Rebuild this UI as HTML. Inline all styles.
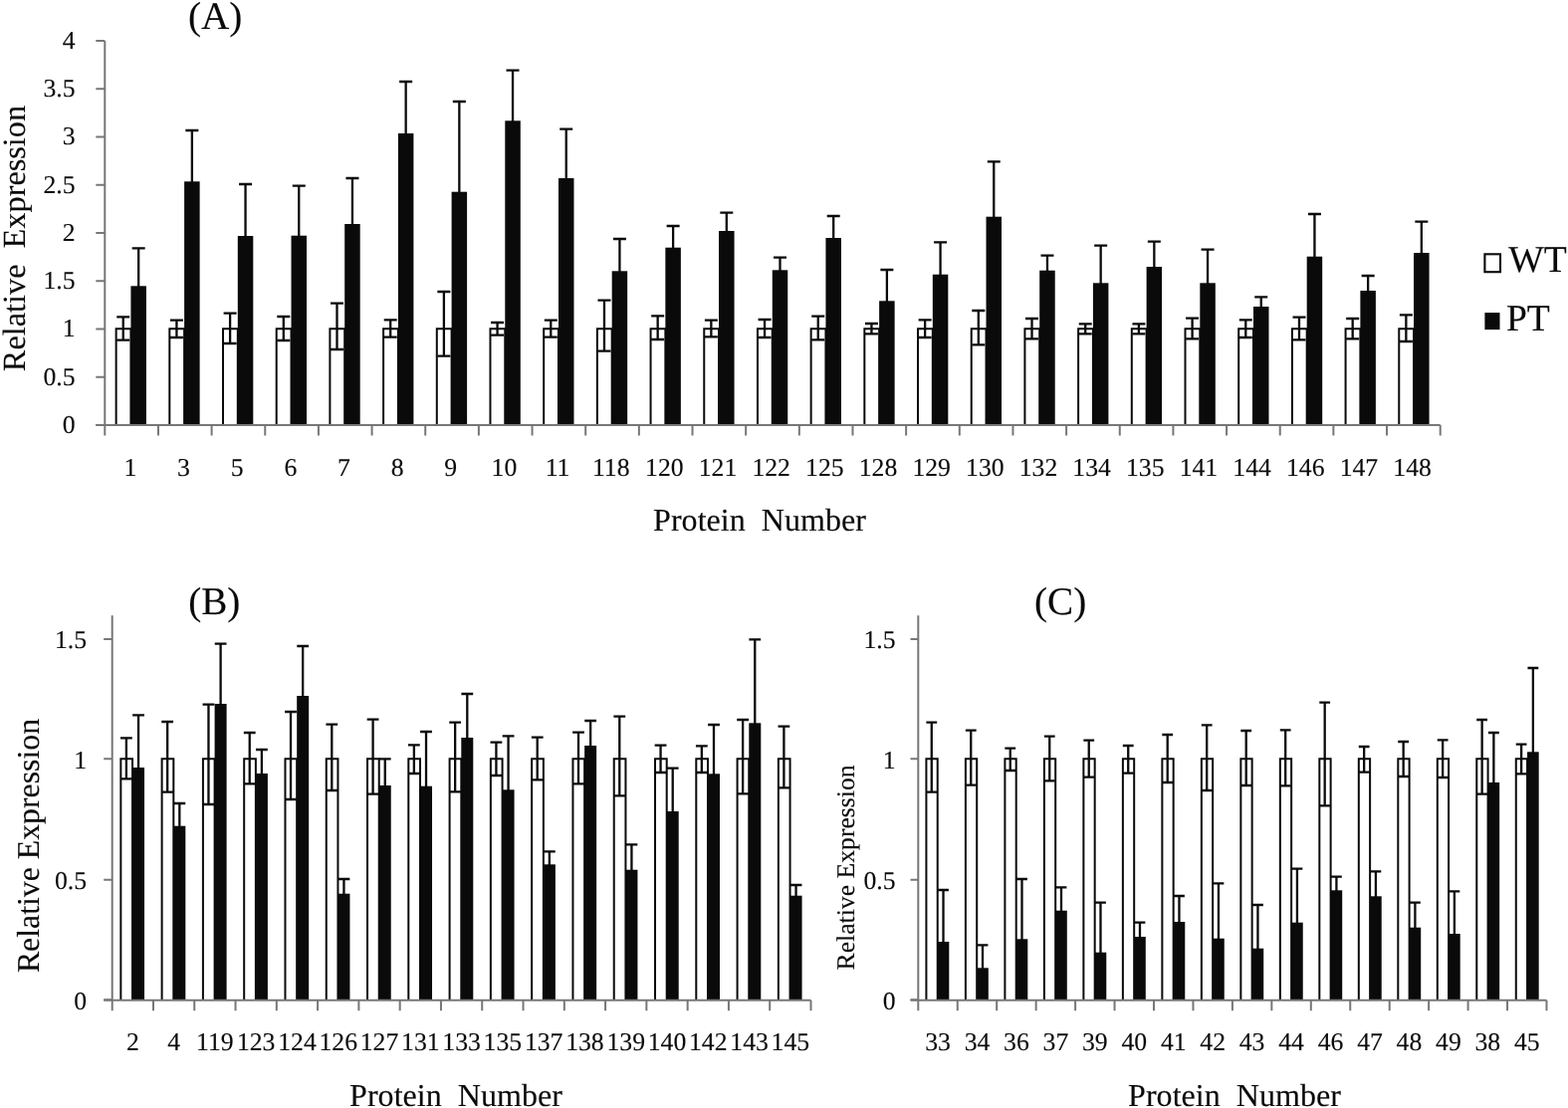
<!DOCTYPE html>
<html lang="en">
<head>
<meta charset="utf-8">
<title>Relative Expression by Protein Number</title>
<style>
html,body{margin:0;padding:0;background:#fff;}
body{width:1575px;height:1113px;overflow:hidden;}
svg{display:block;}
.t{font-family:'Liberation Serif', 'DejaVu Serif', serif;fill:#0a0a0a;stroke:#0a0a0a;stroke-width:0.12;text-rendering:geometricPrecision;white-space:pre;}
.wt{fill:#fff;stroke:#0a0a0a;stroke-width:2;}
.pt{fill:#0a0a0a;}
.e{fill:none;stroke:#0a0a0a;stroke-width:2.3;}
.ax{fill:none;stroke:#777777;stroke-width:2;}
</style>
</head>
<body>
<svg role="img" aria-label="Relative expression of proteins in WT and PT, panels A, B and C" width="1575" height="1113" viewBox="0 0 1575 1113">
<rect x="0" y="0" width="1575" height="1113" fill="#fff"/>
<path class="wt" d="M116.63 427V330.3H131.43V427"/>
<rect class="pt" x="131.43" y="287.3" width="15.5" height="139.7"/>
<path class="e" d="M123.73 318.3V341.7M117.23 318.3H130.23M117.23 341.7H130.23"/>
<path class="e" d="M139.18 249.3V289.3M132.68 249.3H145.68"/>
<path class="wt" d="M170.32 427V330.3H185.12V427"/>
<rect class="pt" x="185.12" y="182.3" width="15.5" height="244.7"/>
<path class="e" d="M177.42 321.7V339M170.92 321.7H183.92M170.92 339H183.92"/>
<path class="e" d="M192.87 131V184.3M186.37 131H199.37"/>
<path class="wt" d="M224.01 427V330.3H238.81V427"/>
<rect class="pt" x="238.81" y="237" width="15.5" height="190"/>
<path class="e" d="M231.11 314.7V345M224.61 314.7H237.61M224.61 345H237.61"/>
<path class="e" d="M246.56 185V239M240.06 185H253.06"/>
<path class="wt" d="M277.71 427V330.3H292.51V427"/>
<rect class="pt" x="292.51" y="236.7" width="15.5" height="190.3"/>
<path class="e" d="M284.81 318V342M278.31 318H291.31M278.31 342H291.31"/>
<path class="e" d="M300.26 186.7V238.7M293.76 186.7H306.76"/>
<path class="wt" d="M331.4 427V330.3H346.2V427"/>
<rect class="pt" x="346.2" y="225" width="15.5" height="202"/>
<path class="e" d="M338.5 304.7V351M332 304.7H345M332 351H345"/>
<path class="e" d="M353.95 179V227M347.45 179H360.45"/>
<path class="wt" d="M385.1 427V330.3H399.9V427"/>
<rect class="pt" x="399.9" y="134" width="15.5" height="293"/>
<path class="e" d="M392.2 321.3V338.7M385.7 321.3H398.7M385.7 338.7H398.7"/>
<path class="e" d="M407.65 82V136M401.15 82H414.15"/>
<path class="wt" d="M438.79 427V330.3H453.59V427"/>
<rect class="pt" x="453.59" y="192.7" width="15.5" height="234.3"/>
<path class="e" d="M445.89 293V357.7M439.39 293H452.39M439.39 357.7H452.39"/>
<path class="e" d="M461.34 102V194.7M454.84 102H467.84"/>
<path class="wt" d="M492.48 427V330.3H507.28V427"/>
<rect class="pt" x="507.28" y="121.3" width="15.5" height="305.7"/>
<path class="e" d="M499.58 324V336.7M493.08 324H506.08M493.08 336.7H506.08"/>
<path class="e" d="M515.03 70.7V123.3M508.53 70.7H521.53"/>
<path class="wt" d="M546.18 427V330.3H560.98V427"/>
<rect class="pt" x="560.98" y="179" width="15.5" height="248"/>
<path class="e" d="M553.28 321.7V338.7M546.78 321.7H559.78M546.78 338.7H559.78"/>
<path class="e" d="M568.73 129.7V181M562.23 129.7H575.23"/>
<path class="wt" d="M599.87 427V330.3H614.67V427"/>
<rect class="pt" x="614.67" y="272.3" width="15.5" height="154.7"/>
<path class="e" d="M606.97 301.7V352.7M600.47 301.7H613.47M600.47 352.7H613.47"/>
<path class="e" d="M622.42 240V274.3M615.92 240H628.92"/>
<path class="wt" d="M653.56 427V330.3H668.36V427"/>
<rect class="pt" x="668.36" y="248.7" width="15.5" height="178.3"/>
<path class="e" d="M660.66 317.3V341M654.16 317.3H667.16M654.16 341H667.16"/>
<path class="e" d="M676.11 227V250.7M669.61 227H682.61"/>
<path class="wt" d="M707.26 427V330.3H722.06V427"/>
<rect class="pt" x="722.06" y="232" width="15.5" height="195"/>
<path class="e" d="M714.36 321.7V338.3M707.86 321.7H720.86M707.86 338.3H720.86"/>
<path class="e" d="M729.81 213.7V234M723.31 213.7H736.31"/>
<path class="wt" d="M760.95 427V330.3H775.75V427"/>
<rect class="pt" x="775.75" y="271.3" width="15.5" height="155.7"/>
<path class="e" d="M768.05 321V339M761.55 321H774.55M761.55 339H774.55"/>
<path class="e" d="M783.5 258.7V273.3M777 258.7H790"/>
<path class="wt" d="M814.64 427V330.3H829.44V427"/>
<rect class="pt" x="829.44" y="239" width="15.5" height="188"/>
<path class="e" d="M821.74 317.7V341.3M815.24 317.7H828.24M815.24 341.3H828.24"/>
<path class="e" d="M837.19 217V241M830.69 217H843.69"/>
<path class="wt" d="M868.34 427V330.3H883.14V427"/>
<rect class="pt" x="883.14" y="302.3" width="15.5" height="124.7"/>
<path class="e" d="M875.44 325V335.3M868.94 325H881.94M868.94 335.3H881.94"/>
<path class="e" d="M890.89 271V304.3M884.39 271H897.39"/>
<path class="wt" d="M922.03 427V330.3H936.83V427"/>
<rect class="pt" x="936.83" y="275.7" width="15.5" height="151.3"/>
<path class="e" d="M929.13 321.3V339M922.63 321.3H935.63M922.63 339H935.63"/>
<path class="e" d="M944.58 243.3V277.7M938.08 243.3H951.08"/>
<path class="wt" d="M975.72 427V330.3H990.52V427"/>
<rect class="pt" x="990.52" y="217.7" width="15.5" height="209.3"/>
<path class="e" d="M982.82 312V346.3M976.32 312H989.32M976.32 346.3H989.32"/>
<path class="e" d="M998.27 162.3V219.7M991.77 162.3H1004.77"/>
<path class="wt" d="M1029.42 427V330.3H1044.22V427"/>
<rect class="pt" x="1044.22" y="271.7" width="15.5" height="155.3"/>
<path class="e" d="M1036.52 320V340.3M1030.02 320H1043.02M1030.02 340.3H1043.02"/>
<path class="e" d="M1051.97 256.7V273.7M1045.47 256.7H1058.47"/>
<path class="wt" d="M1083.11 427V330.3H1097.91V427"/>
<rect class="pt" x="1097.91" y="284.3" width="15.5" height="142.7"/>
<path class="e" d="M1090.21 325.3V335.3M1083.71 325.3H1096.71M1083.71 335.3H1096.71"/>
<path class="e" d="M1105.66 246.7V286.3M1099.16 246.7H1112.16"/>
<path class="wt" d="M1136.8 427V330.3H1151.6V427"/>
<rect class="pt" x="1151.6" y="268" width="15.5" height="159"/>
<path class="e" d="M1143.9 325.3V335.3M1137.4 325.3H1150.4M1137.4 335.3H1150.4"/>
<path class="e" d="M1159.35 242.7V270M1152.85 242.7H1165.85"/>
<path class="wt" d="M1190.5 427V330.3H1205.3V427"/>
<rect class="pt" x="1205.3" y="284.3" width="15.5" height="142.7"/>
<path class="e" d="M1197.6 319.7V340.3M1191.1 319.7H1204.1M1191.1 340.3H1204.1"/>
<path class="e" d="M1213.05 250.7V286.3M1206.55 250.7H1219.55"/>
<path class="wt" d="M1244.19 427V330.3H1258.99V427"/>
<rect class="pt" x="1258.99" y="308" width="15.5" height="119"/>
<path class="e" d="M1251.29 321.3V339M1244.79 321.3H1257.79M1244.79 339H1257.79"/>
<path class="e" d="M1266.74 298.3V310M1260.24 298.3H1273.24"/>
<path class="wt" d="M1297.89 427V330.3H1312.69V427"/>
<rect class="pt" x="1312.69" y="257.7" width="15.5" height="169.3"/>
<path class="e" d="M1304.99 318.7V341.3M1298.49 318.7H1311.49M1298.49 341.3H1311.49"/>
<path class="e" d="M1320.44 215V259.7M1313.94 215H1326.94"/>
<path class="wt" d="M1351.58 427V330.3H1366.38V427"/>
<rect class="pt" x="1366.38" y="292" width="15.5" height="135"/>
<path class="e" d="M1358.68 320V340.3M1352.18 320H1365.18M1352.18 340.3H1365.18"/>
<path class="e" d="M1374.13 277V294M1367.63 277H1380.63"/>
<path class="wt" d="M1405.27 427V330.3H1420.07V427"/>
<rect class="pt" x="1420.07" y="254" width="15.5" height="173"/>
<path class="e" d="M1412.37 316.3V343M1405.87 316.3H1418.87M1405.87 343H1418.87"/>
<path class="e" d="M1427.82 222.7V256M1421.32 222.7H1434.32"/>
<path class="ax" d="M105.3 41V437.5"/>
<path class="ax" d="M96.3 427H1446.7"/>
<path class="ax" d="M158.96 427v10.5M212.61 427v10.5M266.27 427v10.5M319.92 427v10.5M373.58 427v10.5M427.24 427v10.5M480.89 427v10.5M534.55 427v10.5M588.2 427v10.5M641.86 427v10.5M695.52 427v10.5M749.17 427v10.5M802.83 427v10.5M856.48 427v10.5M910.14 427v10.5M963.8 427v10.5M1017.45 427v10.5M1071.11 427v10.5M1124.76 427v10.5M1178.42 427v10.5M1232.08 427v10.5M1285.73 427v10.5M1339.39 427v10.5M1393.04 427v10.5M1446.7 427v10.5"/>
<path class="wt" d="M121.34 1004.3V762.3H133.04V1004.3"/>
<rect class="pt" x="133.04" y="771" width="12" height="233.3"/>
<path class="e" d="M126.89 741.3V782.3M120.99 741.3H132.79M120.99 782.3H132.79"/>
<path class="e" d="M139.04 718.3V773M133.14 718.3H144.94"/>
<path class="wt" d="M162.62 1004.3V762.3H174.32V1004.3"/>
<rect class="pt" x="174.32" y="829.7" width="12" height="174.6"/>
<path class="e" d="M168.17 725V795.7M162.27 725H174.07M162.27 795.7H174.07"/>
<path class="e" d="M180.32 807V831.7M174.42 807H186.22"/>
<path class="wt" d="M203.91 1004.3V762.3H215.61V1004.3"/>
<rect class="pt" x="215.61" y="707" width="12" height="297.3"/>
<path class="e" d="M209.46 707.7V808M203.56 707.7H215.36M203.56 808H215.36"/>
<path class="e" d="M221.61 646.7V709M215.71 646.7H227.51"/>
<path class="wt" d="M245.19 1004.3V762.3H256.89V1004.3"/>
<rect class="pt" x="256.89" y="777" width="12" height="227.3"/>
<path class="e" d="M250.74 736V787.3M244.84 736H256.64M244.84 787.3H256.64"/>
<path class="e" d="M262.89 753V779M256.99 753H268.79"/>
<path class="wt" d="M286.47 1004.3V762.3H298.17V1004.3"/>
<rect class="pt" x="298.17" y="699" width="12" height="305.3"/>
<path class="e" d="M292.02 715V803M286.12 715H297.92M286.12 803H297.92"/>
<path class="e" d="M304.17 649V701M298.27 649H310.07"/>
<path class="wt" d="M327.75 1004.3V762.3H339.45V1004.3"/>
<rect class="pt" x="339.45" y="897.7" width="12" height="106.6"/>
<path class="e" d="M333.3 727.7V794M327.4 727.7H339.2M327.4 794H339.2"/>
<path class="e" d="M345.45 883V899.7M339.55 883H351.35"/>
<path class="wt" d="M369.04 1004.3V762.3H380.74V1004.3"/>
<rect class="pt" x="380.74" y="789" width="12" height="215.3"/>
<path class="e" d="M374.59 722.7V797.7M368.69 722.7H380.49M368.69 797.7H380.49"/>
<path class="e" d="M386.74 762.3V791M380.84 762.3H392.64"/>
<path class="wt" d="M410.32 1004.3V762.3H422.02V1004.3"/>
<rect class="pt" x="422.02" y="789.7" width="12" height="214.6"/>
<path class="e" d="M415.87 748.3V777M409.97 748.3H421.77M409.97 777H421.77"/>
<path class="e" d="M428.02 735V791.7M422.12 735H433.92"/>
<path class="wt" d="M451.6 1004.3V762.3H463.3V1004.3"/>
<rect class="pt" x="463.3" y="741" width="12" height="263.3"/>
<path class="e" d="M457.15 725.7V795.3M451.25 725.7H463.05M451.25 795.3H463.05"/>
<path class="e" d="M469.3 697V743M463.4 697H475.2"/>
<path class="wt" d="M492.88 1004.3V762.3H504.58V1004.3"/>
<rect class="pt" x="504.58" y="793.3" width="12" height="211"/>
<path class="e" d="M498.43 745.7V779M492.53 745.7H504.33M492.53 779H504.33"/>
<path class="e" d="M510.58 739.3V795.3M504.68 739.3H516.48"/>
<path class="wt" d="M534.16 1004.3V762.3H545.86V1004.3"/>
<rect class="pt" x="545.86" y="868.3" width="12" height="136"/>
<path class="e" d="M539.71 740.7V783.3M533.81 740.7H545.61M533.81 783.3H545.61"/>
<path class="e" d="M551.86 855.3V870.3M545.96 855.3H557.76"/>
<path class="wt" d="M575.45 1004.3V762.3H587.15V1004.3"/>
<rect class="pt" x="587.15" y="749" width="12" height="255.3"/>
<path class="e" d="M581 735.7V787.3M575.1 735.7H586.9M575.1 787.3H586.9"/>
<path class="e" d="M593.15 724V751M587.25 724H599.05"/>
<path class="wt" d="M616.73 1004.3V762.3H628.43V1004.3"/>
<rect class="pt" x="628.43" y="873.7" width="12" height="130.6"/>
<path class="e" d="M622.28 719.7V799.3M616.38 719.7H628.18M616.38 799.3H628.18"/>
<path class="e" d="M634.43 848.3V875.7M628.53 848.3H640.33"/>
<path class="wt" d="M658.01 1004.3V762.3H669.71V1004.3"/>
<rect class="pt" x="669.71" y="815" width="12" height="189.3"/>
<path class="e" d="M663.56 748.7V776M657.66 748.7H669.46M657.66 776H669.46"/>
<path class="e" d="M675.71 771.7V817M669.81 771.7H681.61"/>
<path class="wt" d="M699.29 1004.3V762.3H710.99V1004.3"/>
<rect class="pt" x="710.99" y="777.3" width="12" height="227"/>
<path class="e" d="M704.84 749.3V776M698.94 749.3H710.74M698.94 776H710.74"/>
<path class="e" d="M716.99 728V779.3M711.09 728H722.89"/>
<path class="wt" d="M740.58 1004.3V762.3H752.28V1004.3"/>
<rect class="pt" x="752.28" y="726.3" width="12" height="278"/>
<path class="e" d="M746.13 723V797.3M740.23 723H752.03M740.23 797.3H752.03"/>
<path class="e" d="M758.28 642.3V728.3M752.38 642.3H764.18"/>
<path class="wt" d="M781.86 1004.3V762.3H793.56V1004.3"/>
<rect class="pt" x="793.56" y="899.7" width="12" height="104.6"/>
<path class="e" d="M787.41 729.7V791.3M781.51 729.7H793.31M781.51 791.3H793.31"/>
<path class="e" d="M799.56 889V901.7M793.66 889H805.46"/>
<path class="ax" d="M112.7 618.3V1015.3"/>
<path class="ax" d="M104.2 1004.7H814.5"/>
<path class="ax" d="M153.98 1004.7v10.6M195.26 1004.7v10.6M236.55 1004.7v10.6M277.83 1004.7v10.6M319.11 1004.7v10.6M360.39 1004.7v10.6M401.68 1004.7v10.6M442.96 1004.7v10.6M484.24 1004.7v10.6M525.52 1004.7v10.6M566.81 1004.7v10.6M608.09 1004.7v10.6M649.37 1004.7v10.6M690.65 1004.7v10.6M731.94 1004.7v10.6M773.22 1004.7v10.6M814.5 1004.7v10.6"/>
<path class="wt" d="M930.42 1004.3V762.3H941.73V1004.3"/>
<rect class="pt" x="941.73" y="946" width="11.6" height="58.3"/>
<path class="e" d="M935.78 725.7V795.7M930.38 725.7H941.18M930.38 795.7H941.18"/>
<path class="e" d="M947.52 894V948M942.12 894H952.92"/>
<path class="wt" d="M969.91 1004.3V762.3H981.21V1004.3"/>
<rect class="pt" x="981.21" y="972.3" width="11.6" height="32"/>
<path class="e" d="M975.26 733.7V788.7M969.87 733.7H980.66M969.87 788.7H980.66"/>
<path class="e" d="M987.01 949.3V974.3M981.61 949.3H992.41"/>
<path class="wt" d="M1009.4 1004.3V762.3H1020.7V1004.3"/>
<rect class="pt" x="1020.7" y="943.3" width="11.6" height="61"/>
<path class="e" d="M1014.75 751.7V774M1009.36 751.7H1020.15M1009.36 774H1020.15"/>
<path class="e" d="M1026.5 883V945.3M1021.1 883H1031.9"/>
<path class="wt" d="M1048.89 1004.3V762.3H1060.19V1004.3"/>
<rect class="pt" x="1060.19" y="914.7" width="11.6" height="89.6"/>
<path class="e" d="M1054.25 739.7V784.3M1048.85 739.7H1059.65M1048.85 784.3H1059.65"/>
<path class="e" d="M1065.99 891.3V916.7M1060.59 891.3H1071.39"/>
<path class="wt" d="M1088.38 1004.3V762.3H1099.68V1004.3"/>
<rect class="pt" x="1099.68" y="956.7" width="11.6" height="47.6"/>
<path class="e" d="M1093.74 743.7V780.7M1088.34 743.7H1099.14M1088.34 780.7H1099.14"/>
<path class="e" d="M1105.48 906.7V958.7M1100.08 906.7H1110.88"/>
<path class="wt" d="M1127.88 1004.3V762.3H1139.18V1004.3"/>
<rect class="pt" x="1139.18" y="941" width="11.6" height="63.3"/>
<path class="e" d="M1133.23 749V776.7M1127.83 749H1138.63M1127.83 776.7H1138.63"/>
<path class="e" d="M1144.98 926.7V943M1139.58 926.7H1150.38"/>
<path class="wt" d="M1167.37 1004.3V762.3H1178.66V1004.3"/>
<rect class="pt" x="1178.66" y="926" width="11.6" height="78.3"/>
<path class="e" d="M1172.72 738V786M1167.32 738H1178.12M1167.32 786H1178.12"/>
<path class="e" d="M1184.46 900V928M1179.06 900H1189.87"/>
<path class="wt" d="M1206.86 1004.3V762.3H1218.15V1004.3"/>
<rect class="pt" x="1218.15" y="942.7" width="11.6" height="61.6"/>
<path class="e" d="M1212.21 728.3V794M1206.81 728.3H1217.61M1206.81 794H1217.61"/>
<path class="e" d="M1223.95 887.3V944.7M1218.55 887.3H1229.36"/>
<path class="wt" d="M1246.35 1004.3V762.3H1257.64V1004.3"/>
<rect class="pt" x="1257.64" y="952.7" width="11.6" height="51.6"/>
<path class="e" d="M1251.7 734V789M1246.3 734H1257.1M1246.3 789H1257.1"/>
<path class="e" d="M1263.44 909V954.7M1258.04 909H1268.85"/>
<path class="wt" d="M1285.84 1004.3V762.3H1297.13V1004.3"/>
<rect class="pt" x="1297.13" y="926.7" width="11.6" height="77.6"/>
<path class="e" d="M1291.19 733.3V789.3M1285.79 733.3H1296.59M1285.79 789.3H1296.59"/>
<path class="e" d="M1302.93 872.7V928.7M1297.53 872.7H1308.34"/>
<path class="wt" d="M1325.33 1004.3V762.3H1336.62V1004.3"/>
<rect class="pt" x="1336.62" y="894.3" width="11.6" height="110"/>
<path class="e" d="M1330.68 705.7V809.3M1325.28 705.7H1336.08M1325.28 809.3H1336.08"/>
<path class="e" d="M1342.42 880.7V896.3M1337.02 880.7H1347.83"/>
<path class="wt" d="M1364.82 1004.3V762.3H1376.12V1004.3"/>
<rect class="pt" x="1376.12" y="900.3" width="11.6" height="104"/>
<path class="e" d="M1370.17 750V775.7M1364.77 750H1375.57M1364.77 775.7H1375.57"/>
<path class="e" d="M1381.91 875.3V902.3M1376.51 875.3H1387.32"/>
<path class="wt" d="M1404.31 1004.3V762.3H1415.61V1004.3"/>
<rect class="pt" x="1415.61" y="931.7" width="11.6" height="72.6"/>
<path class="e" d="M1409.66 745V780M1404.26 745H1415.06M1404.26 780H1415.06"/>
<path class="e" d="M1421.4 906.7V933.7M1416 906.7H1426.81"/>
<path class="wt" d="M1443.8 1004.3V762.3H1455.1V1004.3"/>
<rect class="pt" x="1455.1" y="938" width="11.6" height="66.3"/>
<path class="e" d="M1449.15 743.3V781M1443.75 743.3H1454.55M1443.75 781H1454.55"/>
<path class="e" d="M1460.89 895.3V940M1455.49 895.3H1466.3"/>
<path class="wt" d="M1483.29 1004.3V762.3H1494.59V1004.3"/>
<rect class="pt" x="1494.59" y="786" width="11.6" height="218.3"/>
<path class="e" d="M1488.64 723V797.7M1483.24 723H1494.04M1483.24 797.7H1494.04"/>
<path class="e" d="M1500.38 736V788M1494.98 736H1505.79"/>
<path class="wt" d="M1522.78 1004.3V762.3H1534.08V1004.3"/>
<rect class="pt" x="1534.08" y="755.3" width="11.6" height="249"/>
<path class="e" d="M1528.13 747.7V777.3M1522.73 747.7H1533.53M1522.73 777.3H1533.53"/>
<path class="e" d="M1539.88 671V757.3M1534.47 671H1545.28"/>
<path class="ax" d="M922.3 618.3V1015.3"/>
<path class="ax" d="M914.5 1004.7H1553.5"/>
<path class="ax" d="M961.75 1004.7v10.6M1001.2 1004.7v10.6M1040.65 1004.7v10.6M1080.1 1004.7v10.6M1119.55 1004.7v10.6M1159 1004.7v10.6M1198.45 1004.7v10.6M1237.9 1004.7v10.6M1277.35 1004.7v10.6M1316.8 1004.7v10.6M1356.25 1004.7v10.6M1395.7 1004.7v10.6M1435.15 1004.7v10.6M1474.6 1004.7v10.6M1514.05 1004.7v10.6M1553.5 1004.7v10.6"/>
<path class="ax" d="M96.3 427H105.3M96.3 378.75H105.3M96.3 330.5H105.3M96.3 282.25H105.3M96.3 234H105.3M96.3 185.75H105.3M96.3 137.5H105.3M96.3 89.25H105.3M96.3 41H105.3"/>
<text class="t" x="75.5" y="434.8" text-anchor="end" font-size="25.7">0</text>
<text class="t" x="75.5" y="386.55" text-anchor="end" font-size="25.7">0.5</text>
<text class="t" x="75.5" y="338.3" text-anchor="end" font-size="25.7">1</text>
<text class="t" x="75.5" y="290.05" text-anchor="end" font-size="25.7">1.5</text>
<text class="t" x="75.5" y="241.8" text-anchor="end" font-size="25.7">2</text>
<text class="t" x="75.5" y="193.55" text-anchor="end" font-size="25.7">2.5</text>
<text class="t" x="75.5" y="145.3" text-anchor="end" font-size="25.7">3</text>
<text class="t" x="75.5" y="97.05" text-anchor="end" font-size="25.7">3.5</text>
<text class="t" x="75.5" y="48.8" text-anchor="end" font-size="25.7">4</text>
<path class="ax" d="M104.2 1004.3H112.7M104.2 883.7H112.7M104.2 762.3H112.7M104.2 642H112.7"/>
<text class="t" x="87" y="1013.6" text-anchor="end" font-size="25.7">0</text>
<text class="t" x="87" y="893" text-anchor="end" font-size="25.7">0.5</text>
<text class="t" x="87" y="771.6" text-anchor="end" font-size="25.7">1</text>
<text class="t" x="87" y="651.3" text-anchor="end" font-size="25.7">1.5</text>
<path class="ax" d="M914.5 1004.3H922.3M914.5 883.7H922.3M914.5 762.3H922.3M914.5 642H922.3"/>
<text class="t" x="899.5" y="1013.6" text-anchor="end" font-size="25.7">0</text>
<text class="t" x="899.5" y="893" text-anchor="end" font-size="25.7">0.5</text>
<text class="t" x="899.5" y="771.6" text-anchor="end" font-size="25.7">1</text>
<text class="t" x="899.5" y="651.3" text-anchor="end" font-size="25.7">1.5</text>
<text class="t" x="130.83" y="477.6" text-anchor="middle" font-size="25.7">1</text>
<text class="t" x="184.48" y="477.6" text-anchor="middle" font-size="25.7">3</text>
<text class="t" x="238.14" y="477.6" text-anchor="middle" font-size="25.7">5</text>
<text class="t" x="291.8" y="477.6" text-anchor="middle" font-size="25.7">6</text>
<text class="t" x="345.45" y="477.6" text-anchor="middle" font-size="25.7">7</text>
<text class="t" x="399.11" y="477.6" text-anchor="middle" font-size="25.7">8</text>
<text class="t" x="452.76" y="477.6" text-anchor="middle" font-size="25.7">9</text>
<text class="t" x="506.42" y="477.6" text-anchor="middle" font-size="25.7">10</text>
<text class="t" x="560.08" y="477.6" text-anchor="middle" font-size="25.7">11</text>
<text class="t" x="613.73" y="477.6" text-anchor="middle" font-size="25.7">118</text>
<text class="t" x="667.39" y="477.6" text-anchor="middle" font-size="25.7">120</text>
<text class="t" x="721.04" y="477.6" text-anchor="middle" font-size="25.7">121</text>
<text class="t" x="774.7" y="477.6" text-anchor="middle" font-size="25.7">122</text>
<text class="t" x="828.36" y="477.6" text-anchor="middle" font-size="25.7">125</text>
<text class="t" x="882.01" y="477.6" text-anchor="middle" font-size="25.7">128</text>
<text class="t" x="935.67" y="477.6" text-anchor="middle" font-size="25.7">129</text>
<text class="t" x="989.32" y="477.6" text-anchor="middle" font-size="25.7">130</text>
<text class="t" x="1042.98" y="477.6" text-anchor="middle" font-size="25.7">132</text>
<text class="t" x="1096.64" y="477.6" text-anchor="middle" font-size="25.7">134</text>
<text class="t" x="1150.29" y="477.6" text-anchor="middle" font-size="25.7">135</text>
<text class="t" x="1203.95" y="477.6" text-anchor="middle" font-size="25.7">141</text>
<text class="t" x="1257.6" y="477.6" text-anchor="middle" font-size="25.7">144</text>
<text class="t" x="1311.26" y="477.6" text-anchor="middle" font-size="25.7">146</text>
<text class="t" x="1364.92" y="477.6" text-anchor="middle" font-size="25.7">147</text>
<text class="t" x="1418.57" y="477.6" text-anchor="middle" font-size="25.7">148</text>
<text class="t" x="133.34" y="1054.9" text-anchor="middle" font-size="25.7">2</text>
<text class="t" x="174.62" y="1054.9" text-anchor="middle" font-size="25.7">4</text>
<text class="t" x="215.91" y="1054.9" text-anchor="middle" font-size="25.7">119</text>
<text class="t" x="257.19" y="1054.9" text-anchor="middle" font-size="25.7">123</text>
<text class="t" x="298.47" y="1054.9" text-anchor="middle" font-size="25.7">124</text>
<text class="t" x="339.75" y="1054.9" text-anchor="middle" font-size="25.7">126</text>
<text class="t" x="381.04" y="1054.9" text-anchor="middle" font-size="25.7">127</text>
<text class="t" x="422.32" y="1054.9" text-anchor="middle" font-size="25.7">131</text>
<text class="t" x="463.6" y="1054.9" text-anchor="middle" font-size="25.7">133</text>
<text class="t" x="504.88" y="1054.9" text-anchor="middle" font-size="25.7">135</text>
<text class="t" x="546.16" y="1054.9" text-anchor="middle" font-size="25.7">137</text>
<text class="t" x="587.45" y="1054.9" text-anchor="middle" font-size="25.7">138</text>
<text class="t" x="628.73" y="1054.9" text-anchor="middle" font-size="25.7">139</text>
<text class="t" x="670.01" y="1054.9" text-anchor="middle" font-size="25.7">140</text>
<text class="t" x="711.29" y="1054.9" text-anchor="middle" font-size="25.7">142</text>
<text class="t" x="752.58" y="1054.9" text-anchor="middle" font-size="25.7">143</text>
<text class="t" x="793.86" y="1054.9" text-anchor="middle" font-size="25.7">145</text>
<text class="t" x="942.02" y="1054.9" text-anchor="middle" font-size="25.7">33</text>
<text class="t" x="981.47" y="1054.9" text-anchor="middle" font-size="25.7">34</text>
<text class="t" x="1020.92" y="1054.9" text-anchor="middle" font-size="25.7">36</text>
<text class="t" x="1060.38" y="1054.9" text-anchor="middle" font-size="25.7">37</text>
<text class="t" x="1099.83" y="1054.9" text-anchor="middle" font-size="25.7">39</text>
<text class="t" x="1139.28" y="1054.9" text-anchor="middle" font-size="25.7">40</text>
<text class="t" x="1178.72" y="1054.9" text-anchor="middle" font-size="25.7">41</text>
<text class="t" x="1218.17" y="1054.9" text-anchor="middle" font-size="25.7">42</text>
<text class="t" x="1257.62" y="1054.9" text-anchor="middle" font-size="25.7">43</text>
<text class="t" x="1297.08" y="1054.9" text-anchor="middle" font-size="25.7">44</text>
<text class="t" x="1336.53" y="1054.9" text-anchor="middle" font-size="25.7">46</text>
<text class="t" x="1375.97" y="1054.9" text-anchor="middle" font-size="25.7">47</text>
<text class="t" x="1415.42" y="1054.9" text-anchor="middle" font-size="25.7">48</text>
<text class="t" x="1454.88" y="1054.9" text-anchor="middle" font-size="25.7">49</text>
<text class="t" x="1494.33" y="1054.9" text-anchor="middle" font-size="25.7">38</text>
<text class="t" x="1533.78" y="1054.9" text-anchor="middle" font-size="25.7">45</text>
<text class="t" x="216.2" y="28.8" text-anchor="middle" font-size="39.2" xml:space="preserve" >(A)</text>
<text class="t" x="215.3" y="617" text-anchor="middle" font-size="39.2" xml:space="preserve" >(B)</text>
<text class="t" x="1065.2" y="617" text-anchor="middle" font-size="39.2" xml:space="preserve" >(C)</text>
<text class="t" x="763" y="533.3" text-anchor="middle" font-size="32.1" xml:space="preserve" >Protein  Number</text>
<text class="t" x="458" y="1110.5" text-anchor="middle" font-size="32.1" xml:space="preserve" >Protein  Number</text>
<text class="t" x="1240" y="1110.5" text-anchor="middle" font-size="32.1" xml:space="preserve" >Protein  Number</text>
<text class="t" transform="translate(25 239.5) rotate(-90)" text-anchor="middle" font-size="32.3" xml:space="preserve">Relative  Expression</text>
<text class="t" transform="translate(39.3 849.5) rotate(-90)" text-anchor="middle" font-size="31.8" xml:space="preserve">Relative Expression</text>
<text class="t" transform="translate(858 871.4) rotate(-90)" text-anchor="middle" font-size="25.7" xml:space="preserve">Relative Expression</text>
<rect class="wt" style="stroke-width:2.1" x="1491.4" y="255.3" width="15.6" height="17.9"/>
<text class="t" x="1515.3" y="273.1" text-anchor="start" font-size="37.7" xml:space="preserve" >WT</text>
<rect class="pt" x="1491.4" y="314.1" width="15.1" height="17"/>
<text class="t" x="1512.9" y="331.6" text-anchor="start" font-size="37.7" xml:space="preserve" >PT</text>
</svg>
</body>
</html>
